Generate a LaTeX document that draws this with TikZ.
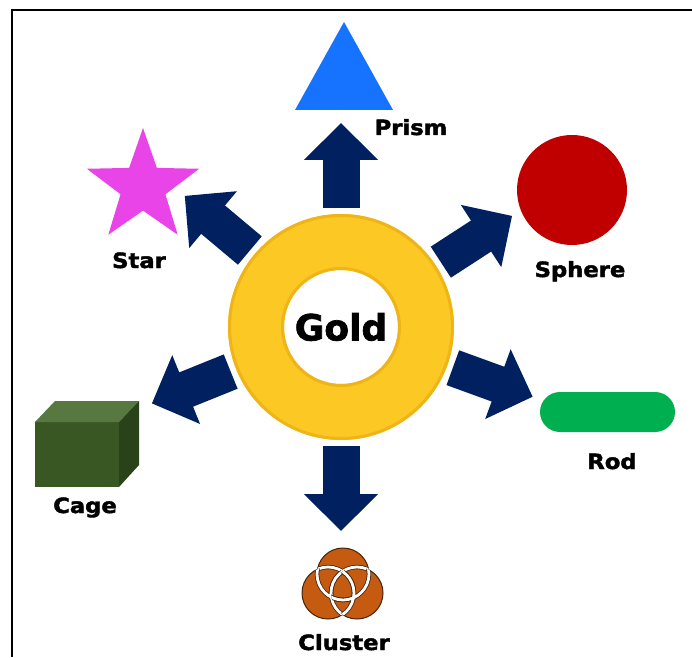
\documentclass[tikz,border=0pt]{standalone}
\usepackage{fontspec}
\newfontfamily\heavyfont[FakeStretch=1.08, BoldFeatures={FakeBold=2}]{DejaVu Sans}
\newfontfamily\ringfont[BoldFeatures={FakeBold=2}]{DejaVu Sans}
\usetikzlibrary{arrows.meta,shapes.geometric}

\definecolor{navy}{RGB}{0,32,96}
\definecolor{ringgold}{RGB}{252,200,36}
\definecolor{ringedge}{RGB}{238,180,24}
\definecolor{prismblue}{RGB}{22,115,255}
\definecolor{starpink}{RGB}{233,68,232}
\definecolor{spherered}{RGB}{192,0,0}
\definecolor{rodgreen}{RGB}{0,176,80}
\definecolor{cagefront}{RGB}{56,87,35}
\definecolor{cagetop}{RGB}{88,120,66}
\definecolor{cageside}{RGB}{42,66,26}
\definecolor{clusterbrown}{RGB}{197,90,17}
\definecolor{clusteredge}{RGB}{70,35,10}

\begin{document}
\begin{tikzpicture}[x=1pt, y=1pt,
    bigarrow/.style={navy, line width=37pt, -{Triangle[width=72pt,length=37pt]}},
    lbl/.style={font=\heavyfont\bfseries\fontsize{21}{21}\selectfont, anchor=base, inner sep=0pt},
    ball/.style={fill=clusterbrown, draw=clusteredge, line width=1pt}]

\useasboundingbox (0,0) rectangle (692,657);
\draw[line width=2.5pt] (12,0) -- (12,647) -- (692,647);

\coordinate (ring) at (341,330);
\fill[ringgold, even odd rule] (ring) circle (113pt) (ring) circle (57pt);
\draw[ringedge, line width=3pt] (ring) circle (111.5pt);
\draw[ringedge, line width=3pt] (ring) circle (58.5pt);
\node[font=\ringfont\bfseries\fontsize{36}{36}\selectfont] (gold) at (ring) {Gold};

\draw[bigarrow] ([shift={(90:119pt)}]ring) -- ([shift={(90:204pt)}]ring);
\draw[bigarrow] ([shift={(33:119pt)}]ring) -- ([shift={(33:204pt)}]ring);
\draw[bigarrow] ([shift={(-20:119pt)}]ring) -- ([shift={(-20:204pt)}]ring);
\draw[bigarrow] ([shift={(270:119pt)}]ring) -- ([shift={(270:204pt)}]ring);
\draw[bigarrow] ([shift={(202:119pt)}]ring) -- ([shift={(202:204pt)}]ring);
\draw[bigarrow] ([shift={(140:119pt)}]ring) -- ([shift={(140:204pt)}]ring);

\fill[prismblue] (344,635) -- (393,547) -- (295,547) -- cycle;
\node[lbl] (prism) at (411,522) {Prism};

\node[star, star points=5, star point ratio=2.5, minimum size=118pt, inner sep=0pt, fill=starpink] at (143,470) {};
\node[lbl] (starlbl) at (139,389) {Star};

\fill[spherered] (572,467) circle (55pt);
\node[lbl] (sphere) at (580,380) {Sphere};

\fill[rodgreen, rounded corners=20pt] (540,225) rectangle (675,265);
\node[lbl] (rod) at (612,188) {Rod};

\fill[cagefront] (35,170) rectangle (119,235);
\fill[cagetop] (35,235) -- (119,235) -- (139,256) -- (55,256) -- cycle;
\fill[cageside] (119,170) -- (139,192) -- (139,256) -- (119,235) -- cycle;
\node[lbl] (cage) at (85,144) {Cage};

\coordinate (c1) at (343,83);
\coordinate (c2) at (328,64);
\coordinate (c3) at (357,64);
\draw[ball] (c1) circle (26pt) (c2) circle (26pt) (c3) circle (26pt);
\begin{scope}
  \clip (c1) circle (26pt);
  \draw[clusteredge, line width=4.4pt] (c2) circle (26pt) (c3) circle (26pt);
  \draw[white, line width=2.8pt] (c2) circle (26pt) (c3) circle (26pt);
\end{scope}
\begin{scope}
  \clip (c2) circle (26pt);
  \draw[clusteredge, line width=4.4pt] (c1) circle (26pt) (c3) circle (26pt);
  \draw[white, line width=2.8pt] (c1) circle (26pt) (c3) circle (26pt);
\end{scope}
\begin{scope}
  \clip (c3) circle (26pt);
  \draw[clusteredge, line width=4.4pt] (c1) circle (26pt) (c2) circle (26pt);
  \draw[white, line width=2.8pt] (c1) circle (26pt) (c2) circle (26pt);
\end{scope}
\node[lbl] (cluster) at (344,7) {Cluster};

\end{tikzpicture}
\end{document}
